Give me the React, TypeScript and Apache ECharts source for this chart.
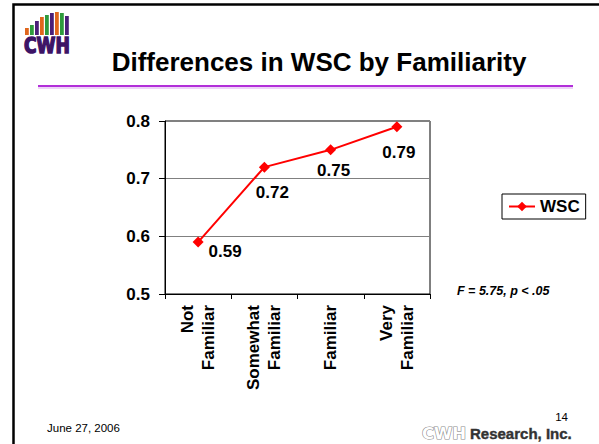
import React, { useEffect, useRef } from "react";
import * as echarts from "echarts";

const categories = ["Not\nFamiliar", "Somewhat\nFamiliar", "Familiar", "Very\nFamiliar"];
const wscValues = [0.59, 0.72, 0.75, 0.79];
const yTicks = { min: 0.5, max: 0.8, interval: 0.1 };
const seriesName = "WSC";
const titleText = "Differences in WSC by Familiarity";
const statText = "F = 5.75, p < .05";
const dateText = "June 27, 2006";
const pageNumber = "14";

const FONT = "'Liberation Sans', Arial, sans-serif";
const labelOffsets = [
  [27, 9],
  [8, 25],
  [3, 21],
  [2, 26],
];
const barTops = [28, 25, 21, 17, 15, 13, 12, 13, 16];
const barColors = ["#E0661C", "#2E9A3C", "#4A1E78"];

export default function App() {
  const ref = useRef<HTMLDivElement>(null);
  useEffect(() => {
    if (!ref.current) return;
    const chart = echarts.init(ref.current, null, { renderer: "svg" });

    const logoBars = barTops.map((top, i) => ({
      type: "rect",
      shape: { x: 25 + i * 5, y: top, width: 3.8, height: 35 - top },
      style: { fill: barColors[i % 3] },
    }));

    chart.setOption({
      animation: false,
      backgroundColor: "#ffffff",
      grid: {
        left: 165,
        right: 169,
        top: 121,
        bottom: 150,
        show: true,
        borderColor: "#000000",
        borderWidth: 1,
        containLabel: false,
      },
      legend: {
        left: 502,
        top: 194,
        orient: "vertical",
        borderColor: "#000000",
        borderWidth: 1,
        padding: [4, 6, 4, 6],
        itemWidth: 26,
        itemHeight: 12,
        itemGap: 4,
        textStyle: { fontFamily: FONT, fontSize: 17, fontWeight: "bold", color: "#000" },
        data: [seriesName],
      },
      xAxis: {
        type: "category",
        data: categories,
        boundaryGap: true,
        axisLine: { show: true, lineStyle: { color: "#000", width: 1 } },
        axisTick: { show: true, length: 5, lineStyle: { color: "#000" } },
        axisLabel: {
          rotate: 90,
          margin: 11,
          fontFamily: FONT,
          fontSize: 17,
          fontWeight: "bold",
          color: "#000",
          lineHeight: 21,
          interval: 0,
        },
      },
      yAxis: {
        type: "value",
        min: yTicks.min,
        max: yTicks.max,
        interval: yTicks.interval,
        axisLine: { show: true, lineStyle: { color: "#000", width: 1 } },
        axisTick: { show: true, length: 6, lineStyle: { color: "#000" } },
        axisLabel: {
          margin: 15,
          fontFamily: FONT,
          fontSize: 17,
          fontWeight: "bold",
          color: "#000",
          formatter: (v: number) => v.toFixed(1),
        },
        splitLine: { show: true, lineStyle: { color: "#808080", width: 1 } },
      },
      series: [
        {
          name: seriesName,
          type: "line",
          data: wscValues.map((v, i) => ({
            value: v,
            label: { offset: labelOffsets[i] },
          })),
          symbol: "diamond",
          symbolSize: 11,
          lineStyle: { color: "#FF0000", width: 2 },
          itemStyle: { color: "#FF0000" },
          label: {
            show: true,
            position: "inside",
            fontFamily: FONT,
            fontSize: 17,
            fontWeight: "bold",
            color: "#000",
            formatter: (p: any) => Number(p.value).toFixed(2),
          },
        },
      ],
      graphic: [
        {
          type: "rect",
          shape: { x: 13.5, y: 4.5, width: 700, height: 600 },
          style: { fill: "none", stroke: "#000", lineWidth: 2.5 },
          silent: true,
        },
        ...logoBars,
        {
          type: "text",
          x: 24,
          y: 35,
          scaleX: 0.78,
          scaleY: 1,
          style: {
            text: "CWH",
            fontFamily: "'DejaVu Sans', sans-serif",
            fontSize: 22,
            fontWeight: "bold",
            fill: "#3D1466",
            stroke: "#3D1466",
            lineWidth: 1.6,
            textVerticalAlign: "top",
          },
        },
        {
          type: "text",
          x: 319,
          y: 62,
          style: {
            text: titleText,
            fontFamily: FONT,
            fontSize: 26,
            fontWeight: "bold",
            fill: "#000",
            textAlign: "center",
            textVerticalAlign: "middle",
          },
        },
        {
          type: "line",
          shape: { x1: 38, y1: 86, x2: 573, y2: 86 },
          style: { stroke: "#B22FD9", lineWidth: 2 },
        },
        {
          type: "line",
          shape: { x1: 38, y1: 88, x2: 573, y2: 88 },
          style: { stroke: "#DDA8F0", lineWidth: 1 },
        },
        {
          type: "text",
          x: 457,
          y: 291,
          style: {
            text: statText,
            fontFamily: FONT,
            fontSize: 12.5,
            fontWeight: "bold",
            fontStyle: "italic",
            fill: "#000",
            textVerticalAlign: "middle",
          },
        },
        {
          type: "text",
          x: 47,
          y: 428,
          style: {
            text: dateText,
            fontFamily: FONT,
            fontSize: 11.5,
            fill: "#000",
            textVerticalAlign: "middle",
          },
        },
        {
          type: "text",
          x: 568,
          y: 417,
          style: {
            text: pageNumber,
            fontFamily: FONT,
            fontSize: 11.5,
            fill: "#000",
            textAlign: "right",
            textVerticalAlign: "middle",
          },
        },
        {
          type: "text",
          x: 422,
          y: 433,
          style: {
            text: "CWH",
            fontFamily: "'DejaVu Sans', sans-serif",
            fontSize: 16.5,
            fontWeight: "bold",
            fill: "#ffffff",
            stroke: "#8a8a8a",
            lineWidth: 1.2,
            textVerticalAlign: "middle",
          },
        },
        {
          type: "text",
          x: 470,
          y: 433,
          style: {
            text: "Research, Inc.",
            fontFamily: FONT,
            fontSize: 15,
            fontWeight: "bold",
            fill: "#333333",
            stroke: "#333333",
            lineWidth: 0.4,
            textVerticalAlign: "middle",
          },
        },
      ],
    });
    return () => chart.dispose();
  }, []);
  return (
    <div
      ref={ref}
      style={{ position: "fixed", left: 0, top: 0, width: 599, height: 444, background: "#fff" }}
    />
  );
}
